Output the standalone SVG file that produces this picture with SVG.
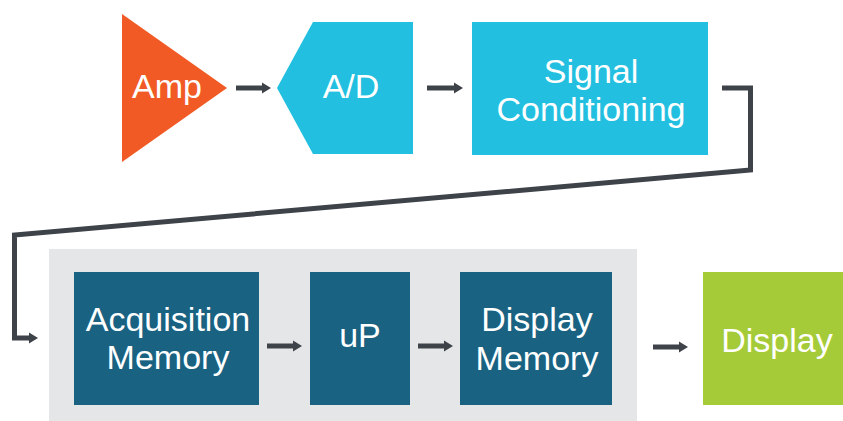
<svg xmlns="http://www.w3.org/2000/svg" width="843" height="421" viewBox="0 0 843 421">
<style>
  .lbl { font-family: "Liberation Sans", Arial, Helvetica, sans-serif; font-size: 34px; fill: #ffffff; text-anchor: middle; }
  .conn { fill: none; stroke: #3e4249; stroke-width: 5; stroke-linejoin: miter; }
  .teal { fill: #196282; }
</style>
<defs>
  <marker id="ah" markerUnits="userSpaceOnUse" markerWidth="9" markerHeight="12" viewBox="0 0 9 12" refX="1" refY="6" orient="auto">
    <path d="M0,0.5 L9,6 L0,11.5 z" fill="#3e4249"/>
  </marker>
</defs>
<rect width="843" height="421" fill="#ffffff"/>
<g id="panel">
  <rect x="49" y="249" width="588" height="172" fill="#e5e6e8"/>
</g>
<g id="amp">
  <polygon points="122,14 227,88 122,162" fill="#f15a24"/>
  <text class="lbl" x="167" y="98">Amp</text>
</g>
<g id="ad">
  <polygon points="277,88 313,22 413,22 413,154 313,154" fill="#23bfe0"/>
  <text class="lbl" x="351" y="98">A/D</text>
</g>
<g id="signal-conditioning">
  <rect x="472" y="22" width="236" height="133" fill="#23bfe0"/>
  <text class="lbl" x="591" y="83">Signal</text>
  <text class="lbl" x="591" y="121">Conditioning</text>
</g>
<g id="acquisition-memory">
  <rect class="teal" x="74" y="272" width="185" height="133"/>
  <text class="lbl" x="168" y="331">Acquisition</text>
  <text class="lbl" x="168" y="369">Memory</text>
</g>
<g id="up">
  <rect class="teal" x="310" y="272" width="100" height="133"/>
  <text class="lbl" x="360" y="347">uP</text>
</g>
<g id="display-memory">
  <rect class="teal" x="460" y="272" width="152" height="133"/>
  <text class="lbl" x="537" y="331">Display</text>
  <text class="lbl" x="537" y="370">Memory</text>
</g>
<g id="display">
  <rect x="703" y="272" width="140" height="133" fill="#a6cb38"/>
  <text class="lbl" x="777" y="352">Display</text>
</g>
<g id="connectors">
  <line class="conn" x1="236" y1="88" x2="263" y2="88" marker-end="url(#ah)"/>
  <line class="conn" x1="427" y1="88" x2="455" y2="88" marker-end="url(#ah)"/>
  <polyline class="conn" points="722,88 750.5,88 750.5,170 14.5,235 14.5,338 30,338" marker-end="url(#ah)"/>
  <line class="conn" x1="267" y1="346" x2="294" y2="346" marker-end="url(#ah)"/>
  <line class="conn" x1="418" y1="346" x2="445" y2="346" marker-end="url(#ah)"/>
  <line class="conn" x1="653" y1="347" x2="680" y2="347" marker-end="url(#ah)"/>
</g>
</svg>
